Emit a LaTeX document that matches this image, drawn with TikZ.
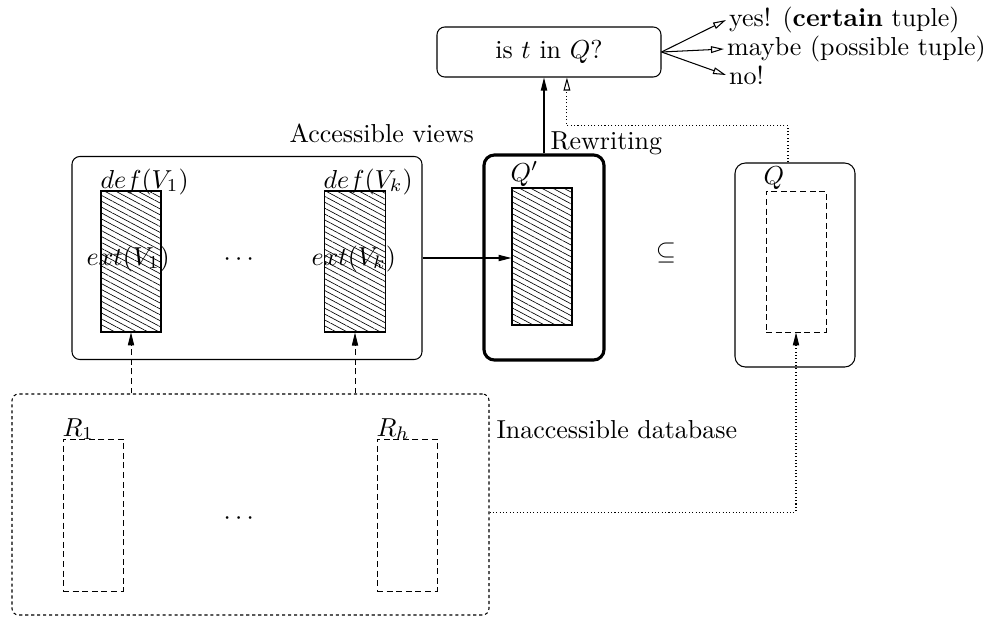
\documentclass[tikz,border=0pt]{standalone}
\usepackage{tikz}
\usetikzlibrary{arrows.meta, patterns.meta, positioning}
\usepackage{amsmath, amssymb}
\newcommand{\pxu}{0.385pt}

\begin{document}
\begin{tikzpicture}[x=0.385pt, y=-0.385pt,
  panel/.style={draw, rounded corners=3pt, line width=0.4pt, inner sep=0pt},
  hatched/.style={draw, line width=0.4pt, inner sep=0pt, pattern={Lines[angle=-28, distance=2pt, line width=0.25pt]}},
  relbox/.style={draw, dash pattern=on 2.3pt off 1.4pt, line width=0.35pt, inner sep=0pt},
  lbl/.style={anchor=base west, inner sep=0pt},
  ans/.style={anchor=west, inner sep=1pt},
  tip/.style={-{Triangle[length=5pt, width=2.4pt]}},
  opentip/.style={-{Triangle[open, length=5pt, width=2.6pt]}},
  dotline/.style={dash pattern=on 0.4pt off 0.9pt}]
  \useasboundingbox (0,0) rectangle (993,618);

  % Question
  \node[panel, minimum width=224*\pxu, minimum height=50*\pxu] (ask) at (549,52) {is $t$ in $Q$?};

  % Answers
  \node[ans] (yes) at (726,20) {yes! (\textbf{certain} tuple)};
  \node[ans] (maybe) at (724,49) {maybe (possible tuple)};
  \node[ans] (no) at (726,75) {no!};
  \draw[opentip] (ask.east) -- (yes.west);
  \draw[opentip] (ask.east) -- (maybe.west);
  \draw[opentip] (ask.east) -- (no.west);

  % Accessible views
  \node[lbl] (acclabel) at (289,142) {Accessible views};
  \node[panel, minimum width=350*\pxu, minimum height=203*\pxu] (views) at (247,258) {};
  \node[hatched, minimum width=60*\pxu, minimum height=141*\pxu] (v1) at (131,261.5) {};
  \node[hatched, minimum width=61*\pxu, minimum height=141*\pxu] (vk) at (355,261.5) {};
  \node[lbl] (def1) at (100,188) {$def(V_1)$};
  \node[lbl] (defk) at (323,188) {$def(V_k)$};
  \node[lbl] (ext1) at (86,265) {$ext(V_1)$};
  \node[lbl] (extk) at (311,265) {$ext(V_k)$};
  \node (vdots) at (241,260) {$\cdots$};

  % Rewriting
  \node[panel, rounded corners=4pt, line width=1.2pt, minimum width=120*\pxu, minimum height=205*\pxu] (qbox) at (544,257.5) {};
  \node[hatched, minimum width=60*\pxu, minimum height=137*\pxu] (qhatch) at (542,256.5) {};
  \node[lbl] (qprime) at (510,181) {$Q'$};
  \node[lbl] (rewlabel) at (550,149) {Rewriting};
  \draw[tip] (views.east) -- (views.east -| qhatch.west);
  \draw[tip] (qbox.north) -- (qbox.north |- ask.south);

  % Query
  \node (subset) at (666,253) {$\subseteq$};
  \node[panel, rounded corners=4pt, minimum width=120*\pxu, minimum height=204*\pxu] (qset) at (795,265) {};
  \node[relbox, minimum width=60*\pxu, minimum height=141*\pxu] (qdash) at (796,261.5) {};
  \node[lbl] (qlabel) at (763,184) {$Q$};
  \draw[opentip, dotline] ([xshift=-2.7pt]qset.north) -- ++(0,-37) -| ([xshift=6.9pt]ask.south);

  % Inaccessible database
  \node[draw, rounded corners=2.5pt, dash pattern=on 1.2pt off 1.1pt, line width=0.4pt, inner sep=0pt, minimum width=477*\pxu, minimum height=221*\pxu] (db) at (250.5,504.5) {};
  \node[relbox, minimum width=60*\pxu, minimum height=152*\pxu] (r1) at (93,515) {};
  \node[relbox, minimum width=60*\pxu, minimum height=152*\pxu] (rh) at (407,515) {};
  \node[lbl] (r1label) at (62,436) {$R_1$};
  \node[lbl] (rhlabel) at (376,436) {$R_h$};
  \node (rdots) at (241,519) {$\cdots$};
  \node[lbl] (dblabel) at (496,438) {Inaccessible database};
  \draw[tip, relbox] (v1.south |- db.north) -- (v1.south);
  \draw[tip, relbox] (vk.south |- db.north) -- (vk.south);
  \draw[tip, dotline] ([yshift=-2.9pt]db.east) -| (qdash.south);
\end{tikzpicture}
\end{document}
